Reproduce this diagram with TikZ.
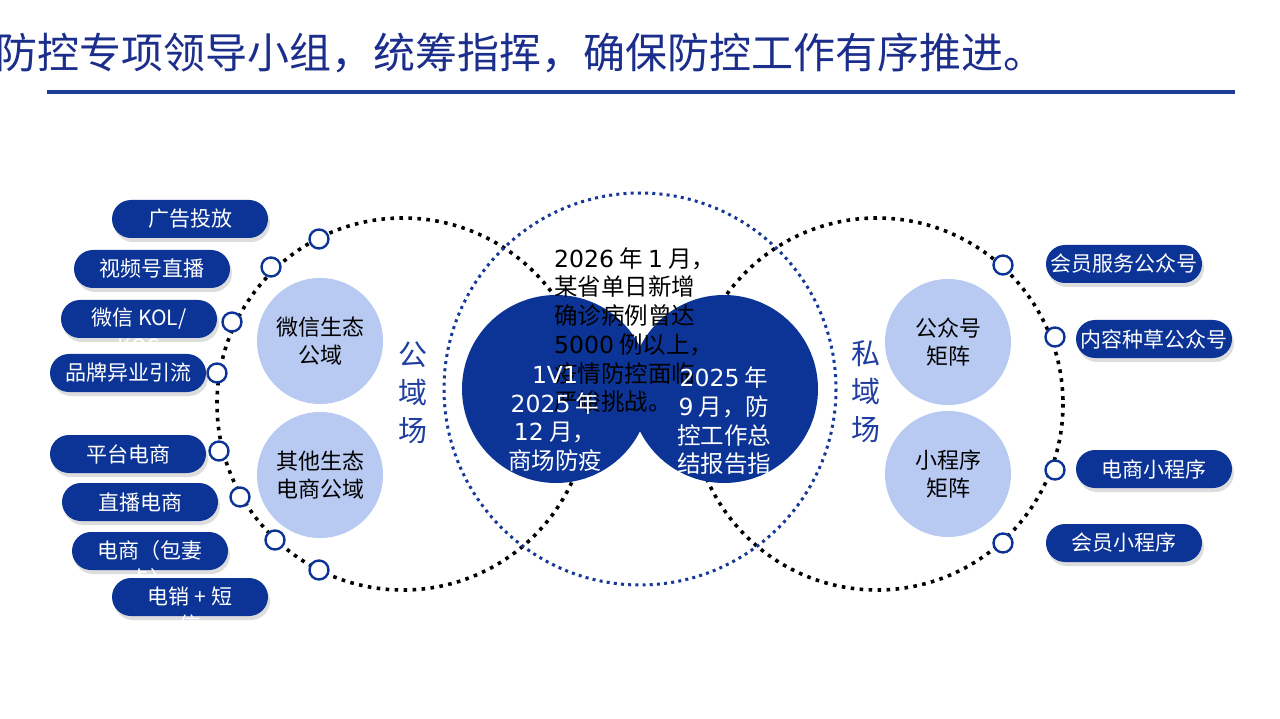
\documentclass[tikz,border=0pt]{standalone}
\usepackage{fontspec}
\setmainfont{Noto Sans CJK SC}
\newfontfamily\dv{DejaVu Sans}
\usetikzlibrary{shadows}
\definecolor{dblue}{RGB}{12,52,150}
\definecolor{titleblue}{RGB}{28,46,140}
\definecolor{lineblue}{RGB}{30,62,150}
\definecolor{dotblue}{RGB}{22,56,150}
\definecolor{lightc}{RGB}{184,202,242}
\definecolor{vblue}{RGB}{32,62,160}
\begin{document}
\begin{tikzpicture}[x=1pt,y=-1pt,
  blackdots/.style={draw=black,line width=3.6pt,dash pattern=on 3.6pt off 5.4pt},
  bluedots/.style={draw=dotblue,line width=3pt,dash pattern=on 3pt off 4.2pt},
  bigc/.style={circle,fill=dblue,minimum size=188pt,inner sep=0pt},
  lightcirc/.style={circle,fill=lightc,minimum size=126pt,inner sep=0pt,align=center,
    font=\fontsize{22}{28}\selectfont},
  vtext/.style={align=center,text=vblue,font=\fontsize{29}{38}\selectfont,inner sep=0pt},
  pill/.style={rounded corners=19pt,fill=dblue,minimum width=156pt,minimum height=38pt,
    inner sep=0pt,text=white,font=\fontsize{21}{28}\selectfont,
    drop shadow={shadow xshift=2pt,shadow yshift=-4pt,opacity=0.22,fill=black!60}},
  overflow/.style={text=white,font=\fontsize{21}{28}\selectfont,inner sep=0pt},
  dotc/.style={circle,draw=dblue,line width=2.4pt,fill=white,minimum size=19pt,inner sep=0pt},
  ctext/.style={inner sep=0pt,font=\fontsize{23.5}{28.7}\selectfont},
]
\useasboundingbox (0,0) rectangle (1280,719);
\fill[white] (0,0) rectangle (1280,719);

% title
\node[anchor=base west,inner sep=0pt,text=titleblue,font=\fontsize{42}{42}\selectfont] (title) at (-5,69)
  {防控专项领导小组，统筹指挥，确保防控工作有序推进。};
\coordinate (ls) at (47,92);
\coordinate (le) at (1235,92);
\draw[lineblue,line width=4pt] (ls) -- (le);

% big dotted circles
\coordinate (L) at (403,404);
\coordinate (R) at (877,404);
\coordinate (C) at (640,389);
\draw[blackdots] (L) circle[radius=186];
\draw[blackdots] (R) circle[radius=186];
\draw[bluedots] (C) circle[radius=196];

% light circles
\node[lightcirc] (wx) at (320,341) {微信生态\\公域};
\node[lightcirc] (qt) at (320,475) {其他生态\\电商公域};
\node[lightcirc] (gz) at (948,342) {公众号\\矩阵};
\node[lightcirc] (xc) at (948,474) {小程序\\矩阵};

\node[vtext] (gy) at (413,393) {公\\域\\场};
\node[vtext] (sy) at (866,392) {私\\域\\场};

% center blue circles
\node[bigc] (bl) at (556,389) {};
\node[bigc] (br) at (724,389) {};

\node[ctext,anchor=west,align=left,text=black] (news) at (554,330)
  {{\dv 2026} 年 {\dv 1} 月，\\某省单日新增\\确诊病例曾达\\{\dv 5000} 例以上，\\疫情防控面临\\严峻挑战。};
\node[ctext,align=center,text=white] (lt) at (555,419)
  {{\dv 1V1}\\{\dv 2025} 年\\{\dv 12} 月，\\商场防疫};
\node[ctext,align=center,text=white] (rt) at (724,421)
  {{\dv 2025} 年\\{\dv 9} 月，防\\控工作总\\结报告指};

% small ring markers
\node[dotc] (l1) at (319,239) {};
\node[dotc] (l2) at (271,267) {};
\node[dotc] (l3) at (232,322) {};
\node[dotc] (l4) at (217,373) {};
\node[dotc] (l5) at (219,451) {};
\node[dotc] (l6) at (240,497) {};
\node[dotc] (l7) at (275,540) {};
\node[dotc] (l8) at (319,570) {};
\node[dotc] (r1) at (1003,265) {};
\node[dotc] (r2) at (1055,337) {};
\node[dotc] (r3) at (1055,470) {};
\node[dotc] (r4) at (1003,543) {};

% left pills
\node[pill] (p1) at (190,219) {广告投放};
\node[pill] (p2) at (152,269) {视频号直播};
\node[pill] (p3) at (139,319) {微信 KOL/};
\node[overflow] (p3b) at (139,347) {KOC};
\node[pill] (p4) at (128,373) {品牌异业引流};
\node[pill] (p5) at (128,454) {平台电商};
\node[pill] (p6) at (140,502) {直播电商};
\node[pill] (p7) at (150,551) {电商（包妻};
\node[overflow] (p7b) at (150,579) {卡）};
\node[pill] (p8) at (190,597) {电销 + 短};
\node[overflow] (p8b) at (190,625) {信};

% right pills
\node[pill] (q1) at (1124,264) {会员服务公众号};
\node[pill] (q2) at (1154,339) {内容种草公众号};
\node[pill] (q3) at (1154,469) {电商小程序};
\node[pill] (q4) at (1124,543) {会员小程序};
\end{tikzpicture}
\end{document}
